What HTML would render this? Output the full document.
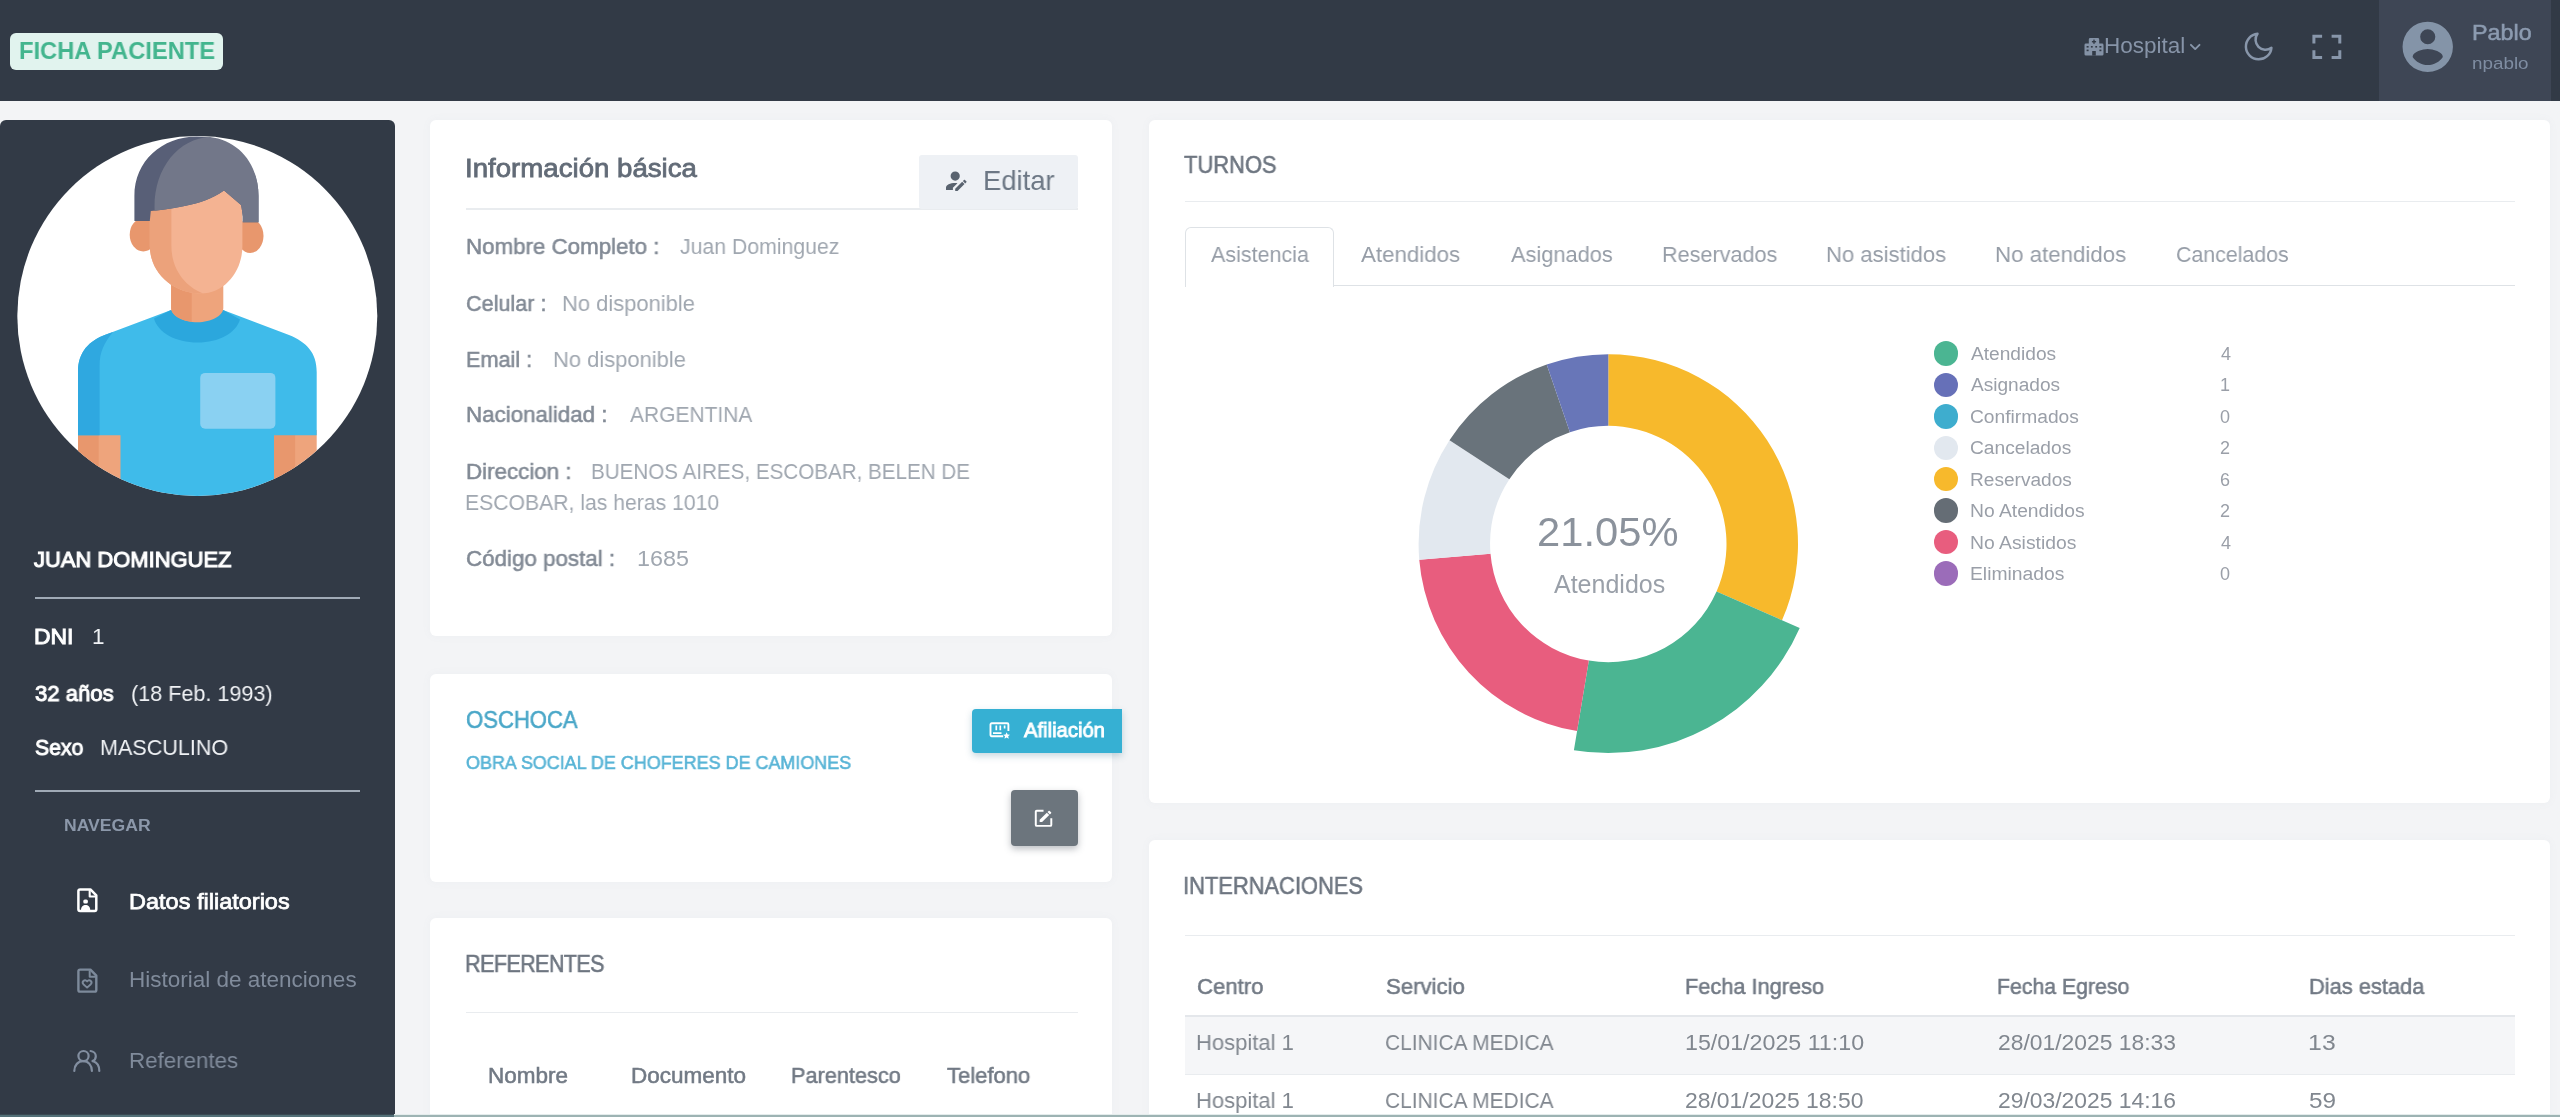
<!DOCTYPE html>
<html lang="es"><head><meta charset="utf-8"><title>Ficha Paciente</title>
<style>
html,body{margin:0;padding:0}
body{width:2560px;height:1117px;overflow:hidden;position:relative;background:#f3f4f6;font-family:"Liberation Sans",sans-serif}
.a{position:absolute}
.t{position:absolute;white-space:pre;font-family:"Liberation Sans",sans-serif;will-change:transform}
.card{position:absolute;background:#fff;border-radius:6px;box-shadow:0 0 10px rgba(120,130,150,.05)}
.hr{position:absolute;height:2px;background:#e9ecef}
svg{position:absolute;overflow:visible}
</style></head><body>
<!-- topbar -->
<div class="a" style="left:0;top:0;width:2560px;height:101px;background:#323a46"></div>
<div class="a" style="left:2378.5px;top:0;width:172px;height:101px;background:#3e4655"></div>
<div class="a" style="left:10px;top:33px;width:213px;height:37px;border-radius:6px;background:#e1f3ee"></div>
<!-- sidebar -->
<div class="a" style="left:0;top:120px;width:394.5px;height:997px;background:#323a46;border-radius:6px 6px 0 0"></div>
<div class="hr" style="left:34.8px;top:596.6px;width:325.2px;background:#a0aab6"></div>
<div class="hr" style="left:34.8px;top:790.1px;width:325.2px;background:#a0aab6"></div>
<svg class="a" style="left:0;top:0" width="400" height="520" viewBox="0 0 400 520">
<defs><clipPath id="avc"><circle cx="197.3" cy="316" r="180"/></clipPath></defs>
<circle cx="197.3" cy="316" r="180" fill="#fff"/>
<g clip-path="url(#avc)">
<!-- arms -->
<rect x="78" y="430" width="43" height="80" fill="#eea47c"/>
<rect x="78" y="430" width="20.7" height="80" fill="#e8976d"/>
<rect x="274" y="430" width="42.7" height="80" fill="#eea47c"/>
<rect x="274" y="430" width="21.1" height="80" fill="#e8976d"/>
<!-- shirt -->
<path d="M170.5 310.3 L197.4 305 L223.7 310.3 L289 335 C306 342 316.7 352 316.7 372 L316.7 435.3 L274 435.3 L274 510 L120.5 510 L120.5 435.3 L78 435.3 L78 372 C78 352 89 341 106 334.6 Z" fill="#3fbbea"/>
<!-- sleeve shadow -->
<path d="M106 334.6 C89 341 78 352 78 372 L78 435.3 L99.6 435.3 L99.6 366 C99.6 352 104 343 113 332 Z" fill="#2fa8e0"/>
<!-- collar -->
<path d="M154 318.5 L170.5 310.3 L223.7 310.3 L240 319.5 C236 333 219 342.5 197.4 342.5 C176 342.5 158 333 154 318.5 Z" fill="#2ba7dd"/>
<!-- pocket -->
<rect x="200.2" y="372.9" width="75.2" height="55.9" rx="5" fill="#8ad1f2"/>
<!-- neck -->
<path d="M171.1 280 L223.3 280 L223.3 308 C223.3 316 211 322.2 197.4 322.2 C183.5 322.2 171.1 316 171.1 308 Z" fill="#eea47c"/>
<path d="M171.1 280 L191.7 280 L191.7 321.8 C181 320.8 171.1 315 171.1 308 Z" fill="#e8976d"/>
<!-- ears -->
<ellipse cx="143.3" cy="234.8" rx="13.6" ry="16.6" fill="#e8976d"/>
<ellipse cx="250.2" cy="235.8" rx="13.3" ry="17.2" fill="#e8976d"/>
<!-- face -->
<path d="M149.8 186 L242.4 186 L242.4 246 C242.4 272 224 293.5 201 293.5 C172 293.5 149.8 272 149.8 246 Z" fill="#f4b392"/>
<path d="M149.8 186 L171.4 186 L171.4 246 C171.4 268 184 286 203 293.4 C201.5 293.5 201.5 293.5 201 293.5 C172 293.5 149.8 272 149.8 246 Z" fill="#eca27b"/>
<!-- hair dark -->
<path d="M134.4 221 L134.4 196 C134.4 161 162 136.4 197 136.4 C232 136.4 258.5 161 258.5 196 L258.5 222.3 L242.8 222.3 L242.8 216.5 C242 210 241.5 207 241 205 L224 190.5 C212 199 200 203 184.6 206 C170 209 158 210.5 150.8 211 L149.8 221 Z" fill="#585f77"/>
<!-- hair light -->
<path d="M154.6 210.5 C153 169 178 138.5 210 137 C238 140.5 258.5 163 258.5 196 L258.5 222.3 L242.8 222.3 L242.8 216.5 C242 210 241.5 207 241 205 L224 190.5 C212 199 200 203 184.6 206 C172 208.5 162 210 154.6 210.5 Z" fill="#727789"/>
</g>
</svg>

<!-- cards -->
<div class="card" style="left:430px;top:120px;width:682.3px;height:516px"></div>
<div class="card" style="left:430px;top:673.5px;width:682.3px;height:208px"></div>
<div class="card" style="left:430px;top:918px;width:682.3px;height:220px"></div>
<div class="card" style="left:1149px;top:120px;width:1400.5px;height:682.5px"></div>
<div class="card" style="left:1149px;top:840px;width:1400.5px;height:300px"></div>
<!-- info card -->
<div class="hr" style="left:466px;top:207.5px;width:612px"></div>
<div class="a" style="left:919px;top:155px;width:158.5px;height:54px;background:#eef1f5;border-radius:3px"></div>
<!-- obra social -->
<div class="a" style="left:971.5px;top:708.5px;width:150px;height:44.5px;background:#36b0d3;border-radius:4px 0 0 4px;box-shadow:0 3px 7px rgba(50,110,135,.28)"></div>
<div class="a" style="left:1010.5px;top:790px;width:67px;height:56px;background:#6c757d;border-radius:4px;box-shadow:0 3px 7px rgba(80,88,96,.38)"></div>
<!-- referentes -->
<div class="hr" style="left:466px;top:1011.5px;width:612px;height:1.5px"></div>
<!-- turnos -->
<div class="hr" style="left:1184.5px;top:200.8px;width:1330px;height:1.5px"></div>
<div class="hr" style="left:1184.5px;top:284.5px;width:1330px;height:1.5px;background:#dee2e6"></div>
<div class="a" style="left:1184.5px;top:226.5px;width:147.5px;height:59px;border:1.5px solid #dee2e6;border-bottom:none;border-radius:6px 6px 0 0;background:#fff"></div>
<svg class="a" style="left:0;top:0" width="2560" height="1117" viewBox="0 0 2560 1117">
<path d="M1608.30 354.30A189.7 189.7 0 0 1 1782.02 620.20L1716.54 591.48A118.2 118.2 0 0 0 1608.30 425.80Z" fill="#f7b92c"/>
<path d="M1799.70 627.95A209.0 209.0 0 0 1 1573.90 750.15L1588.84 660.59A118.2 118.2 0 0 0 1716.54 591.48Z" fill="#4bb592"/>
<path d="M1577.08 731.11A189.7 189.7 0 0 1 1419.25 559.67L1490.50 553.76A118.2 118.2 0 0 0 1588.84 660.59Z" fill="#e85d7e"/>
<path d="M1419.25 559.67A189.7 189.7 0 0 1 1449.49 440.24L1509.35 479.35A118.2 118.2 0 0 0 1490.50 553.76Z" fill="#e2e8ef"/>
<path d="M1449.49 440.24A189.7 189.7 0 0 1 1546.70 364.58L1569.92 432.20A118.2 118.2 0 0 0 1509.35 479.35Z" fill="#69737b"/>
<path d="M1546.70 364.58A189.7 189.7 0 0 1 1608.30 354.30L1608.30 425.80A118.2 118.2 0 0 0 1569.92 432.20Z" fill="#6876b8"/>

</svg>
<div class="a" style="left:1933.7px;top:341.2px;width:24.6px;height:24.6px;border-radius:50%;background:#4bb592"></div>
<div class="a" style="left:1933.7px;top:372.6px;width:24.6px;height:24.6px;border-radius:50%;background:#6670b8"></div>
<div class="a" style="left:1933.7px;top:404.0px;width:24.6px;height:24.6px;border-radius:50%;background:#3eadce"></div>
<div class="a" style="left:1933.7px;top:435.5px;width:24.6px;height:24.6px;border-radius:50%;background:#e2e8ef"></div>
<div class="a" style="left:1933.7px;top:466.9px;width:24.6px;height:24.6px;border-radius:50%;background:#f7b92c"></div>
<div class="a" style="left:1933.7px;top:498.3px;width:24.6px;height:24.6px;border-radius:50%;background:#656d75"></div>
<div class="a" style="left:1933.7px;top:529.8px;width:24.6px;height:24.6px;border-radius:50%;background:#e85d7e"></div>
<div class="a" style="left:1933.7px;top:561.2px;width:24.6px;height:24.6px;border-radius:50%;background:#9b6cb9"></div>

<!-- internaciones -->
<div class="hr" style="left:1184.5px;top:934.5px;width:1330px;height:1.5px"></div>
<div class="hr" style="left:1184.5px;top:1014.5px;width:1330px;height:2px;background:#e4e7eb"></div>
<div class="a" style="left:1184.5px;top:1016.5px;width:1330px;height:57px;background:#f5f6f8"></div>
<div class="hr" style="left:1184.5px;top:1073.5px;width:1330px;height:1.5px"></div>
<svg class="a" style="left:0;top:0" width="2560" height="1117" viewBox="0 0 2560 1117">
<!-- hospital icon -->
<g fill="#8492a6">
<path d="M2090.2 38.1h7.6a1.4 1.4 0 0 1 1.4 1.4v4h2.9a1.4 1.4 0 0 1 1.4 1.4v9.3a1.4 1.4 0 0 1-1.4 1.4h-16.2a1.4 1.4 0 0 1-1.4-1.4v-9.3a1.4 1.4 0 0 1 1.4-1.4h2.9v-4a1.4 1.4 0 0 1 1.4-1.4z"/>
</g>
<g fill="#323a46">
<rect x="2093.3" y="39.6" width="1.4" height="4.2"/><rect x="2091.9" y="41" width="4.2" height="1.4"/>
<rect x="2086.6" y="46" width="2" height="1.6"/><rect x="2086.6" y="49.6" width="2" height="1.6"/>
<rect x="2099.4" y="46" width="2" height="1.6"/><rect x="2099.4" y="49.6" width="2" height="1.6"/>
<rect x="2090.9" y="46" width="1.8" height="1.6"/><rect x="2095.3" y="46" width="1.8" height="1.6"/>
<rect x="2092.2" y="51" width="3.6" height="4.6"/>
</g>
<!-- chevron -->
<path d="M2190.9 44.8l4.3 4.3 4.3-4.3" fill="none" stroke="#8896aa" stroke-width="1.9" stroke-linecap="round" stroke-linejoin="round"/>
<!-- moon (feather) -->
<g transform="translate(2241.6 29.6) scale(1.42)"><path d="M21 12.79A9 9 0 1 1 11.21 3 7 7 0 0 0 21 12.79z" fill="none" stroke="#8896aa" stroke-width="1.75" stroke-linecap="round" stroke-linejoin="round"/></g>
<!-- fullscreen -->
<path d="M2313.9 43.5v-7.3h8.2M2331.6 36.2h8.2v7.3M2339.8 50.3v7.3h-8.2M2322.1 57.6h-8.2v-7.3" fill="none" stroke="#8896aa" stroke-width="3"/>
<!-- user circle (mdi account-circle) -->
<g transform="translate(2397.5 16.6) scale(2.52)"><path fill="#8494a8" d="M12,19.2C9.5,19.2 7.29,17.92 6,16C6.03,14 10,12.9 12,12.9C14,12.9 17.97,14 18,16C16.71,17.92 14.5,19.2 12,19.2M12,5A3,3 0 0,1 15,8A3,3 0 0,1 12,11A3,3 0 0,1 9,8A3,3 0 0,1 12,5M12,2A10,10 0 0,0 2,12A10,10 0 0,0 12,22A10,10 0 0,0 22,12C22,6.47 17.5,2 12,2Z"/></g>
<!-- sidebar icon 1: file user -->
<g fill="none" stroke="#fff" stroke-width="2.5" stroke-linejoin="round">
<path d="M80.1 889.4h10.3l5.9 6v13.9a1.7 1.7 0 0 1-1.7 1.7h-14.5a1.7 1.7 0 0 1-1.7-1.7v-18.2a1.7 1.7 0 0 1 1.7-1.7z"/>
<path d="M89.7 890v6.5h6.2" stroke-width="2.1"/>
</g>
<rect x="83.3" y="899.4" width="4.6" height="4.1" rx="1.6" fill="#fff"/>
<path d="M81 910c0-3.5 2.1-5.1 4.6-5.1s4.6 1.6 4.6 5.1z" fill="#fff"/>
<!-- sidebar icon 2: file heart -->
<g fill="none" stroke="#7d8a9b" stroke-width="2.4" stroke-linejoin="round">
<path d="M80.1 969.6h10.3l5.9 6v14.3a1.7 1.7 0 0 1-1.7 1.7h-14.5a1.7 1.7 0 0 1-1.7-1.7v-18.6a1.7 1.7 0 0 1 1.7-1.7z"/>
<path d="M89.7 970.2v6.5h6.2" stroke-width="2"/>
<path d="M87.1 987.6l-3.7-3.4a2.3 2.3 0 0 1 3.2-3.3l.5.5.5-.5a2.3 2.3 0 0 1 3.2 3.3z" stroke-width="1.9"/>
</g>
<!-- sidebar icon 3: users -->
<g fill="none" stroke="#828ea0" stroke-width="2.2" stroke-linecap="round">
<circle cx="83.5" cy="1056.1" r="5.1"/>
<path d="M74.3 1070.9c0-5.8 3.8-9.7 8.9-9.7s8.7 3.9 8.7 9.7"/>
<path d="M90.6 1051c3 .3 5.2 2.4 5.2 5.2 0 2.300-1.500 4.200-3.300 4.900"/>
<path d="M93.200 1061.300c3.800 1.200 6.100 4.700 6.100 9.600"/>
</g>
<!-- editar icon (mdi account-edit) -->
<g transform="translate(941.4 166.9) scale(1.15)"><path fill="#59636f" d="M21.7,13.35L20.7,14.35L18.65,12.3L19.65,11.3C19.86,11.09 20.21,11.09 20.42,11.3L21.7,12.58C21.91,12.79 21.91,13.14 21.7,13.35M12,18.94L18.06,12.88L20.11,14.93L14.06,21H12V18.94M12,14C7.58,14 4,15.79 4,18V20H10V18.11L14,14.11C13.34,14.03 12.67,14 12,14M12,4A4,4 0 0,0 8,8A4,4 0 0,0 12,12A4,4 0 0,0 16,8A4,4 0 0,0 12,4Z"/></g>
<!-- afiliacion icon -->
<g fill="none" stroke="#fff" stroke-width="1.9" stroke-linejoin="round">
<path d="M1008.4 731v-6.6a1.2 1.2 0 0 0-1.2-1.2h-15.5a1.2 1.2 0 0 0-1.2 1.2v10.6a1.2 1.2 0 0 0 1.2 1.2h11.5"/>
<path d="M993 733.2h8.5M996.3 725.6v4.6M1000.3 725.6v4.6M1004.6 725.6v3" stroke-width="1.7"/>
</g>
<path d="M1006.6 732.2l1 2.2 2.4.3-1.8 1.6.5 2.4-2.1-1.2-2.1 1.2.5-2.4-1.8-1.6 2.4-.3z" fill="#fff"/>
<!-- edit square icon (mdi square-edit-outline) -->
<g transform="translate(1031.9 806.9) scale(0.97 0.95)"><path fill="#fff" d="M5,3C3.89,3 3,3.89 3,5V19A2,2 0 0,0 5,21H19A2,2 0 0,0 21,19V12H19V19H5V5H12V3H5M17.78,4C17.61,4 17.43,4.07 17.3,4.2L16.08,5.41L18.58,7.91L19.8,6.7C20.06,6.44 20.06,6 19.8,5.75L18.25,4.2C18.12,4.07 17.95,4 17.78,4M15.37,6.12L8,13.5V16H10.5L17.87,8.62L15.37,6.12Z"/></g>
</svg>

<div class="t" style="left:18.8px;top:35.2px;font-size:24px;line-height:31px;color:#43b58e;font-weight:700;transform:scaleX(0.9866);transform-origin:0 50%;">FICHA PACIENTE</div>
<div class="t" style="left:2103.8px;top:31.3px;font-size:22.5px;line-height:29px;color:#8794a8;">Hospital</div>
<div class="t" style="left:2471.9px;top:18.4px;font-size:22.5px;line-height:29px;color:#8c9bb0;-webkit-text-stroke:0.55px #8c9bb0;transform:scaleX(1.0360);transform-origin:0 50%;">Pablo</div>
<div class="t" style="left:2471.9px;top:52.0px;font-size:17.2px;line-height:22px;color:#7f8da2;transform:scaleX(1.0952);transform-origin:0 50%;">npablo</div>
<div class="t" style="left:34.3px;top:544.8px;font-size:22.5px;line-height:29px;color:#ffffff;-webkit-text-stroke:1.1px #ffffff;transform:scaleX(0.9751);transform-origin:0 50%;">JUAN DOMINGUEZ</div>
<div class="t" style="left:34.4px;top:621.8px;font-size:22.5px;line-height:29px;color:#ffffff;-webkit-text-stroke:1.0px #ffffff;transform:scaleX(1.0188);transform-origin:0 50%;">DNI</div>
<div class="t" style="left:91.5px;top:621.8px;font-size:22.5px;line-height:29px;color:#f0f2f5;">1</div>
<div class="t" style="left:34.6px;top:678.8px;font-size:22.5px;line-height:29px;color:#ffffff;-webkit-text-stroke:1.0px #ffffff;transform:scaleX(0.9835);transform-origin:0 50%;">32 años</div>
<div class="t" style="left:131.2px;top:678.8px;font-size:22.5px;line-height:29px;color:#f0f2f5;transform:scaleX(0.9599);transform-origin:0 50%;">(18 Feb. 1993)</div>
<div class="t" style="left:35.0px;top:733.4px;font-size:22.5px;line-height:29px;color:#ffffff;-webkit-text-stroke:1.0px #ffffff;transform:scaleX(0.9438);transform-origin:0 50%;">Sexo</div>
<div class="t" style="left:99.9px;top:733.4px;font-size:22.5px;line-height:29px;color:#f0f2f5;transform:scaleX(0.9583);transform-origin:0 50%;">MASCULINO</div>
<div class="t" style="left:63.8px;top:813.6px;font-size:17.2px;line-height:22px;color:#8c98aa;font-weight:700;transform:scaleX(1.0232);transform-origin:0 50%;">NAVEGAR</div>
<div class="t" style="left:129.4px;top:887.3px;font-size:22.5px;line-height:29px;color:#ffffff;-webkit-text-stroke:0.75px #ffffff;transform:scaleX(1.0447);transform-origin:0 50%;">Datos filiatorios</div>
<div class="t" style="left:129.1px;top:965.3px;font-size:22.5px;line-height:29px;color:#808b9b;">Historial de atenciones</div>
<div class="t" style="left:129.1px;top:1045.6px;font-size:22.5px;line-height:29px;color:#808b9b;transform:scaleX(0.9925);transform-origin:0 50%;">Referentes</div>
<div class="t" style="left:465.2px;top:151.0px;font-size:26.5px;line-height:34px;color:#626b77;-webkit-text-stroke:0.8px #626b77;transform:scaleX(1.0427);transform-origin:0 50%;">Información básica</div>
<div class="t" style="left:983.0px;top:163.4px;font-size:28px;line-height:36px;color:#6c7784;transform:scaleX(0.9788);transform-origin:0 50%;">Editar</div>
<div class="t" style="left:465.6px;top:231.8px;font-size:22.5px;line-height:29px;color:#828a95;-webkit-text-stroke:0.55px #828a95;transform:scaleX(0.9920);transform-origin:0 50%;">Nombre Completo :</div>
<div class="t" style="left:679.8px;top:231.8px;font-size:22.5px;line-height:29px;color:#a0a7b0;transform:scaleX(0.9445);transform-origin:0 50%;">Juan Dominguez</div>
<div class="t" style="left:466.4px;top:288.6px;font-size:22.5px;line-height:29px;color:#828a95;-webkit-text-stroke:0.55px #828a95;transform:scaleX(0.9612);transform-origin:0 50%;">Celular :</div>
<div class="t" style="left:562.2px;top:288.6px;font-size:22.5px;line-height:29px;color:#a0a7b0;transform:scaleX(0.9753);transform-origin:0 50%;">No disponible</div>
<div class="t" style="left:465.7px;top:344.7px;font-size:22.5px;line-height:29px;color:#828a95;-webkit-text-stroke:0.55px #828a95;transform:scaleX(0.9631);transform-origin:0 50%;">Email :</div>
<div class="t" style="left:553.2px;top:344.8px;font-size:22.5px;line-height:29px;color:#a0a7b0;transform:scaleX(0.9753);transform-origin:0 50%;">No disponible</div>
<div class="t" style="left:465.6px;top:399.9px;font-size:22.5px;line-height:29px;color:#828a95;-webkit-text-stroke:0.55px #828a95;transform:scaleX(0.9925);transform-origin:0 50%;">Nacionalidad :</div>
<div class="t" style="left:629.5px;top:399.9px;font-size:22.5px;line-height:29px;color:#a0a7b0;transform:scaleX(0.9323);transform-origin:0 50%;">ARGENTINA</div>
<div class="t" style="left:465.6px;top:456.7px;font-size:22.5px;line-height:29px;color:#828a95;-webkit-text-stroke:0.55px #828a95;transform:scaleX(0.9927);transform-origin:0 50%;">Direccion :</div>
<div class="t" style="left:590.7px;top:456.7px;font-size:22.5px;line-height:29px;color:#a0a7b0;transform:scaleX(0.9159);transform-origin:0 50%;">BUENOS AIRES, ESCOBAR, BELEN DE</div>
<div class="t" style="left:465.3px;top:487.7px;font-size:22.5px;line-height:29px;color:#a0a7b0;transform:scaleX(0.9412);transform-origin:0 50%;">ESCOBAR, las heras 1010</div>
<div class="t" style="left:466.3px;top:543.9px;font-size:22.5px;line-height:29px;color:#828a95;-webkit-text-stroke:0.55px #828a95;transform:scaleX(0.9942);transform-origin:0 50%;">Código postal :</div>
<div class="t" style="left:637.0px;top:543.9px;font-size:22.5px;line-height:29px;color:#a0a7b0;transform:scaleX(1.0379);transform-origin:0 50%;">1685</div>
<div class="t" style="left:466.0px;top:703.7px;font-size:24px;line-height:31px;color:#4aa7c8;-webkit-text-stroke:0.55px #4aa7c8;transform:scaleX(0.9203);transform-origin:0 50%;">OSCHOCA</div>
<div class="t" style="left:466.2px;top:751.2px;font-size:18.3px;line-height:24px;color:#58b4d6;-webkit-text-stroke:0.55px #58b4d6;transform:scaleX(0.9814);transform-origin:0 50%;">OBRA SOCIAL DE CHOFERES DE CAMIONES</div>
<div class="t" style="left:1023.8px;top:716.0px;font-size:21px;line-height:27px;color:#ffffff;-webkit-text-stroke:0.9px #ffffff;transform:scaleX(0.9636);transform-origin:0 50%;">Afiliación</div>
<div class="t" style="left:465.4px;top:948.1px;font-size:24px;line-height:31px;color:#6e7681;-webkit-text-stroke:0.55px #6e7681;letter-spacing:-0.70px;transform:scaleX(0.9000);transform-origin:0 50%;">REFERENTES</div>
<div class="t" style="left:488.1px;top:1060.7px;font-size:22.5px;line-height:29px;color:#727a85;-webkit-text-stroke:0.55px #727a85;">Nombre</div>
<div class="t" style="left:631.3px;top:1060.7px;font-size:22.5px;line-height:29px;color:#727a85;-webkit-text-stroke:0.55px #727a85;">Documento</div>
<div class="t" style="left:791.1px;top:1060.7px;font-size:22.5px;line-height:29px;color:#727a85;-webkit-text-stroke:0.55px #727a85;transform:scaleX(0.9652);transform-origin:0 50%;">Parentesco</div>
<div class="t" style="left:947.1px;top:1060.7px;font-size:22.5px;line-height:29px;color:#727a85;-webkit-text-stroke:0.55px #727a85;transform:scaleX(0.9789);transform-origin:0 50%;">Telefono</div>
<div class="t" style="left:1183.8px;top:149.0px;font-size:24px;line-height:31px;color:#6e7681;-webkit-text-stroke:0.55px #6e7681;transform:scaleX(0.9137);transform-origin:0 50%;">TURNOS</div>
<div class="t" style="left:1210.7px;top:239.9px;font-size:22.5px;line-height:29px;color:#969da7;transform:scaleX(0.9551);transform-origin:0 50%;">Asistencia</div>
<div class="t" style="left:1360.5px;top:239.9px;font-size:22.5px;line-height:29px;color:#969da7;transform:scaleX(0.9917);transform-origin:0 50%;">Atendidos</div>
<div class="t" style="left:1511.0px;top:239.9px;font-size:22.5px;line-height:29px;color:#969da7;transform:scaleX(0.9691);transform-origin:0 50%;">Asignados</div>
<div class="t" style="left:1661.8px;top:239.9px;font-size:22.5px;line-height:29px;color:#969da7;transform:scaleX(0.9608);transform-origin:0 50%;">Reservados</div>
<div class="t" style="left:1825.9px;top:239.9px;font-size:22.5px;line-height:29px;color:#969da7;transform:scaleX(0.9808);transform-origin:0 50%;">No asistidos</div>
<div class="t" style="left:1995.1px;top:239.9px;font-size:22.5px;line-height:29px;color:#969da7;transform:scaleX(0.9904);transform-origin:0 50%;">No atendidos</div>
<div class="t" style="left:2176.1px;top:239.9px;font-size:22.5px;line-height:29px;color:#969da7;transform:scaleX(0.9489);transform-origin:0 50%;">Cancelados</div>
<div class="t" style="left:1536.8px;top:504.5px;font-size:41.5px;line-height:54px;color:#8b929c;transform:scaleX(1.0051);transform-origin:0 50%;">21.05%</div>
<div class="t" style="left:1553.7px;top:568.0px;font-size:25px;line-height:32px;color:#9aa0a9;">Atendidos</div>
<div class="t" style="left:1970.6px;top:343.0px;font-size:18px;line-height:23px;color:#9a9fa8;transform:scaleX(1.0633);transform-origin:0 50%;">Atendidos</div>
<div class="t" style="left:2220.7px;top:343.0px;font-size:18px;line-height:23px;color:#9a9fa8;">4</div>
<div class="t" style="left:1970.6px;top:374.4px;font-size:18px;line-height:23px;color:#9a9fa8;transform:scaleX(1.0602);transform-origin:0 50%;">Asignados</div>
<div class="t" style="left:2219.7px;top:374.4px;font-size:18px;line-height:23px;color:#9a9fa8;">1</div>
<div class="t" style="left:1970.4px;top:405.8px;font-size:18px;line-height:23px;color:#9a9fa8;transform:scaleX(1.0669);transform-origin:0 50%;">Confirmados</div>
<div class="t" style="left:2220.4px;top:405.8px;font-size:18px;line-height:23px;color:#9a9fa8;">0</div>
<div class="t" style="left:1970.4px;top:437.3px;font-size:18px;line-height:23px;color:#9a9fa8;transform:scaleX(1.0653);transform-origin:0 50%;">Cancelados</div>
<div class="t" style="left:2220.2px;top:437.3px;font-size:18px;line-height:23px;color:#9a9fa8;">2</div>
<div class="t" style="left:1970.3px;top:468.7px;font-size:18px;line-height:23px;color:#9a9fa8;transform:scaleX(1.0605);transform-origin:0 50%;">Reservados</div>
<div class="t" style="left:2220.2px;top:468.7px;font-size:18px;line-height:23px;color:#9a9fa8;">6</div>
<div class="t" style="left:1970.3px;top:500.1px;font-size:18px;line-height:23px;color:#9a9fa8;transform:scaleX(1.0710);transform-origin:0 50%;">No Atendidos</div>
<div class="t" style="left:2220.2px;top:500.1px;font-size:18px;line-height:23px;color:#9a9fa8;">2</div>
<div class="t" style="left:1970.3px;top:531.6px;font-size:18px;line-height:23px;color:#9a9fa8;transform:scaleX(1.0741);transform-origin:0 50%;">No Asistidos</div>
<div class="t" style="left:2220.7px;top:531.6px;font-size:18px;line-height:23px;color:#9a9fa8;">4</div>
<div class="t" style="left:1970.3px;top:563.0px;font-size:18px;line-height:23px;color:#9a9fa8;transform:scaleX(1.0719);transform-origin:0 50%;">Eliminados</div>
<div class="t" style="left:2220.4px;top:563.0px;font-size:18px;line-height:23px;color:#9a9fa8;">0</div>
<div class="t" style="left:1183.2px;top:869.5px;font-size:24px;line-height:31px;color:#6e7681;-webkit-text-stroke:0.55px #6e7681;transform:scaleX(0.9122);transform-origin:0 50%;">INTERNACIONES</div>
<div class="t" style="left:1196.6px;top:972.0px;font-size:22.5px;line-height:29px;color:#727a85;-webkit-text-stroke:0.55px #727a85;transform:scaleX(0.9847);transform-origin:0 50%;">Centro</div>
<div class="t" style="left:1385.6px;top:972.0px;font-size:22.5px;line-height:29px;color:#727a85;-webkit-text-stroke:0.55px #727a85;transform:scaleX(0.9858);transform-origin:0 50%;">Servicio</div>
<div class="t" style="left:1684.8px;top:972.0px;font-size:22.5px;line-height:29px;color:#727a85;-webkit-text-stroke:0.55px #727a85;transform:scaleX(0.9675);transform-origin:0 50%;">Fecha Ingreso</div>
<div class="t" style="left:1997.1px;top:972.0px;font-size:22.5px;line-height:29px;color:#727a85;-webkit-text-stroke:0.55px #727a85;transform:scaleX(0.9453);transform-origin:0 50%;">Fecha Egreso</div>
<div class="t" style="left:2308.8px;top:972.0px;font-size:22.5px;line-height:29px;color:#727a85;-webkit-text-stroke:0.55px #727a85;transform:scaleX(0.9716);transform-origin:0 50%;">Dias estada</div>
<div class="t" style="left:1195.7px;top:1028.3px;font-size:22.5px;line-height:29px;color:#81878f;transform:scaleX(0.9782);transform-origin:0 50%;">Hospital 1</div>
<div class="t" style="left:1385.2px;top:1028.3px;font-size:22.5px;line-height:29px;color:#81878f;transform:scaleX(0.9300);transform-origin:0 50%;">CLINICA MEDICA</div>
<div class="t" style="left:1684.5px;top:1028.3px;font-size:22.5px;line-height:29px;color:#81878f;transform:scaleX(1.0321);transform-origin:0 50%;">15/01/2025 11:10</div>
<div class="t" style="left:1997.5px;top:1028.3px;font-size:22.5px;line-height:29px;color:#81878f;transform:scaleX(1.0159);transform-origin:0 50%;">28/01/2025 18:33</div>
<div class="t" style="left:2308.4px;top:1028.3px;font-size:22.5px;line-height:29px;color:#81878f;letter-spacing:0.31px;transform:scaleX(1.1000);transform-origin:0 50%;">13</div>
<div class="t" style="left:1195.7px;top:1086.0px;font-size:22.5px;line-height:29px;color:#81878f;transform:scaleX(0.9782);transform-origin:0 50%;">Hospital 1</div>
<div class="t" style="left:1385.2px;top:1086.0px;font-size:22.5px;line-height:29px;color:#81878f;transform:scaleX(0.9300);transform-origin:0 50%;">CLINICA MEDICA</div>
<div class="t" style="left:1685.1px;top:1086.0px;font-size:22.5px;line-height:29px;color:#81878f;transform:scaleX(1.0187);transform-origin:0 50%;">28/01/2025 18:50</div>
<div class="t" style="left:1997.5px;top:1086.0px;font-size:22.5px;line-height:29px;color:#81878f;transform:scaleX(1.0159);transform-origin:0 50%;">29/03/2025 14:16</div>
<div class="t" style="left:2309.3px;top:1086.0px;font-size:22.5px;line-height:29px;color:#81878f;transform:scaleX(1.0796);transform-origin:0 50%;">59</div>
<!-- bottom edge line -->
<div class="a" style="left:0;top:1114px;width:2560px;height:1px;background:linear-gradient(90deg,#3a4952 0,#3a4952 394.5px,#e4ecec 394.5px,#e4ecec 100%)"></div>
<div class="a" style="left:0;top:1115px;width:2560px;height:2px;background:linear-gradient(90deg,#536f77 0,#536f77 394.5px,#9db3b3 394.5px,#9db3b3 100%)"></div>
</body></html>
